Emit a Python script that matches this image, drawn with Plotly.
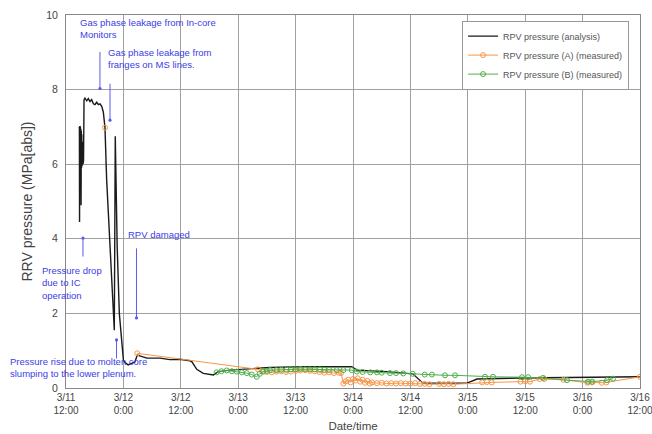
import plotly.graph_objects as go

# ---------------- data ----------------
an_time = [
    "2011-03-11 14:46", "2011-03-11 14:48", "2011-03-11 14:50", "2011-03-11 14:52",
    "2011-03-11 14:54", "2011-03-11 14:56", "2011-03-11 14:58", "2011-03-11 15:00",
    "2011-03-11 15:03", "2011-03-11 15:06", "2011-03-11 15:09", "2011-03-11 15:12",
    "2011-03-11 15:15", "2011-03-11 15:18", "2011-03-11 15:22", "2011-03-11 15:27",
    "2011-03-11 15:33", "2011-03-11 15:40", "2011-03-11 15:46", "2011-03-11 15:58",
    "2011-03-11 16:20", "2011-03-11 16:40", "2011-03-11 17:01", "2011-03-11 17:22",
    "2011-03-11 17:43", "2011-03-11 18:04", "2011-03-11 18:25", "2011-03-11 18:46",
    "2011-03-11 19:07", "2011-03-11 19:28", "2011-03-11 19:48", "2011-03-11 20:00",
    "2011-03-11 20:09", "2011-03-11 20:30", "2011-03-11 21:10", "2011-03-11 21:38",
    "2011-03-11 21:50", "2011-03-11 22:06", "2011-03-11 22:18", "2011-03-11 22:30",
    "2011-03-11 22:42", "2011-03-11 23:09", "2011-03-11 23:39", "2011-03-12 00:00",
    "2011-03-12 00:20", "2011-03-12 01:00", "2011-03-12 02:24", "2011-03-12 02:54",
    "2011-03-12 04:54", "2011-03-12 07:39", "2011-03-12 09:44", "2011-03-12 11:48",
    "2011-03-12 13:54", "2011-03-12 14:20", "2011-03-12 15:20", "2011-03-12 16:42",
    "2011-03-12 18:48", "2011-03-12 19:50", "2011-03-12 22:18", "2011-03-13 03:10",
    "2011-03-13 06:39", "2011-03-13 13:36", "2011-03-13 23:44", "2011-03-14 00:48",
    "2011-03-14 07:00", "2011-03-14 12:30", "2011-03-14 14:38", "2011-03-14 23:50",
    "2011-03-15 01:56", "2011-03-15 10:55", "2011-03-16 00:56", "2011-03-16 12:00",
]
an_value = [
    7.00, 6.95, 4.45, 7.02,
    5.10, 6.98, 4.60, 7.00,
    5.80, 6.95, 4.90, 6.90,
    5.90, 6.80, 5.95, 6.60,
    6.00, 6.10, 7.72, 7.77,
    7.70, 7.76, 7.68, 7.73,
    7.62, 7.60, 7.66, 7.60,
    7.62, 7.55, 7.40, 7.18,
    6.98, 5.58, 3.79, 2.45,
    1.90, 1.55, 6.75, 5.20,
    3.79, 2.00, 1.10, 0.75,
    0.68, 0.62, 0.70, 0.88,
    0.80, 0.80, 0.76, 0.77,
    0.73, 0.70, 0.50, 0.39,
    0.35, 0.44, 0.48, 0.53,
    0.55, 0.57, 0.57, 0.48,
    0.44, 0.38, 0.13, 0.13,
    0.24, 0.27, 0.28, 0.30,
]

# measured (A); None marks a gap in the record
a_time = [
    "2011-03-11 20:09", "2011-03-12 00:00", "2011-03-12 02:54", "2011-03-13 04:08",
    "2011-03-13 05:00", "2011-03-13 06:00", "2011-03-13 07:00", "2011-03-13 08:00",
    "2011-03-13 09:00", "2011-03-13 10:00", "2011-03-13 11:00", "2011-03-13 12:00",
    "2011-03-13 13:00", "2011-03-13 14:00", "2011-03-13 15:00", "2011-03-13 16:00",
    "2011-03-13 17:00", "2011-03-13 18:00", "2011-03-13 19:00", "2011-03-13 20:00",
    "2011-03-13 21:00", "2011-03-13 21:30", "2011-03-13 22:00", "2011-03-13 22:30",
    "2011-03-13 23:00", "2011-03-13 23:30", "2011-03-14 00:00", "2011-03-14 00:30",
    "2011-03-14 01:00", "2011-03-14 01:30", "2011-03-14 02:00", "2011-03-14 02:30",
    "2011-03-14 03:00", "2011-03-14 03:30", "2011-03-14 04:00", "2011-03-14 05:00",
    "2011-03-14 06:00", "2011-03-14 07:00", "2011-03-14 08:00", "2011-03-14 09:00",
    "2011-03-14 10:00", "2011-03-14 11:00", "2011-03-14 12:00", "2011-03-14 13:00",
    "2011-03-14 14:00", "2011-03-14 15:00", "2011-03-14 16:00", "2011-03-14 18:00",
    "2011-03-14 19:00", "2011-03-14 20:00", "2011-03-14 21:00", "2011-03-15 03:00",
    "2011-03-15 04:00", "2011-03-15 05:00", "2011-03-15 11:00", "2011-03-15 12:00",
    "2011-03-15 13:00", "2011-03-15 15:00", "2011-03-15 16:00", "2011-03-15 20:00",
    "2011-03-16 01:00", "2011-03-16 02:00", "2011-03-16 04:00", "2011-03-16 05:00",
    "2011-03-16 12:00",
]
a_value = [
    6.98, None, 0.93, 0.50,
    0.45, 0.43, 0.42, 0.44,
    0.45, 0.43, 0.44, 0.46,
    0.47, 0.48, 0.46, 0.45,
    0.43, 0.41, 0.42, 0.40,
    0.41, 0.40, 0.12, 0.18,
    0.22, 0.15, 0.24, 0.20,
    0.26, 0.17, 0.22, 0.14,
    0.19, 0.12, 0.15, 0.13,
    0.14, 0.12, 0.13, 0.12,
    0.13, 0.12, 0.12, 0.13,
    0.11, 0.11, 0.10, 0.11,
    0.10, 0.11, 0.10, 0.15,
    0.16, 0.15, 0.17, 0.18,
    0.17, 0.24, 0.24, 0.22,
    0.14, 0.15, 0.14, 0.15,
    0.30,
]

b_time = [
    "2011-03-12 19:30", "2011-03-12 20:30", "2011-03-12 21:36", "2011-03-12 22:40",
    "2011-03-12 23:42", "2011-03-13 00:45", "2011-03-13 01:48", "2011-03-13 02:50",
    "2011-03-13 03:52", "2011-03-13 04:30", "2011-03-13 05:15", "2011-03-13 06:00",
    "2011-03-13 06:39", "2011-03-13 08:00", "2011-03-13 09:00", "2011-03-13 10:08",
    "2011-03-13 11:00", "2011-03-13 12:00", "2011-03-13 13:00", "2011-03-13 14:00",
    "2011-03-13 15:00", "2011-03-13 16:00", "2011-03-13 17:06", "2011-03-13 18:00",
    "2011-03-13 19:00", "2011-03-13 20:36", "2011-03-13 22:00", "2011-03-13 23:44",
    "2011-03-14 00:48", "2011-03-14 02:00", "2011-03-14 03:36", "2011-03-14 05:00",
    "2011-03-14 06:00", "2011-03-14 07:44", "2011-03-14 09:00", "2011-03-14 10:30",
    "2011-03-14 12:30", "2011-03-14 15:00", "2011-03-14 16:30", "2011-03-14 19:14",
    "2011-03-14 21:20", "2011-03-15 03:36", "2011-03-15 05:16", "2011-03-15 11:20",
    "2011-03-15 12:36", "2011-03-15 15:44", "2011-03-15 20:44", "2011-03-16 01:08",
    "2011-03-16 02:00", "2011-03-16 05:08", "2011-03-16 06:22",
]
b_value = [
    0.42, 0.45, 0.47, 0.45,
    0.44, 0.42, 0.40, 0.36,
    0.30, 0.38, 0.44, 0.46,
    0.48, 0.48, 0.49, 0.49,
    0.50, 0.50, 0.51, 0.50,
    0.50, 0.50, 0.50, 0.49,
    0.49, 0.48, 0.48, 0.48,
    0.44, 0.43, 0.42, 0.42,
    0.41, 0.40, 0.40, 0.39,
    0.38, 0.36, 0.36, 0.34,
    0.34, 0.30, 0.30, 0.29,
    0.29, 0.27, 0.21, 0.17,
    0.17, 0.21, 0.25,
]

tick_vals = [
    "2011-03-11 12:00", "2011-03-12 00:00", "2011-03-12 12:00", "2011-03-13 00:00",
    "2011-03-13 12:00", "2011-03-14 00:00", "2011-03-14 12:00", "2011-03-15 00:00",
    "2011-03-15 12:00", "2011-03-16 00:00", "2011-03-16 12:00",
]
tick_text = [
    "3/11<br>12:00", "3/12<br>0:00", "3/12<br>12:00", "3/13<br>0:00",
    "3/13<br>12:00", "3/14<br>0:00", "3/14<br>12:00", "3/15<br>0:00",
    "3/15<br>12:00", "3/16<br>0:00", "3/16<br>12:00",
]

# event markers (arrow-head dot position) and their labels
event_time = ["2011-03-11 19:06", "2011-03-11 21:12", "2011-03-12 02:44",
              "2011-03-11 15:33", "2011-03-11 22:34"]
event_value = [8.03, 7.18, 1.88, 4.02, 1.29]
event_text = [
    "Gas phase leakage from In-core<br>Monitors",
    "Gas phase leakage from<br>franges on MS lines.",
    "RPV damaged",
    "Pressure drop<br>due to IC<br>operation",
    "Pressure rise due to molten core<br>slumping to the lower plenum.",
]

FONT = "Arial, 'Liberation Sans', sans-serif"
BLUE = "#3c3ce6"
ORANGE = "#f79646"
GREEN = "#4fae4a"

fig = go.Figure()
fig.add_trace(go.Scatter(x=an_time, y=an_value, mode="lines", name="RPV pressure (analysis)",
                         line=dict(color="#1a1a1a", width=1.4)))
fig.add_trace(go.Scatter(x=a_time, y=a_value, mode="lines+markers", name="RPV pressure (A) (measured)",
                         connectgaps=False,
                         line=dict(color=ORANGE, width=1),
                         marker=dict(symbol="circle-open", size=5, color=ORANGE, line=dict(width=1))))
fig.add_trace(go.Scatter(x=b_time, y=b_value, mode="lines+markers", name="RPV pressure (B) (measured)",
                         line=dict(color=GREEN, width=1),
                         marker=dict(symbol="circle-open", size=5, color=GREEN, line=dict(width=1))))

# arrows with dot heads
arrow_offsets = [(0, -38), (0, -38), (0, -71), (0, 20), (0, 20)]
for t, v, (axo, ayo) in zip(event_time, event_value, arrow_offsets):
    fig.add_annotation(x=t, y=v, xref="x", yref="y", text="", showarrow=True,
                       ax=axo, ay=ayo, arrowhead=6, arrowsize=0.8, arrowwidth=1,
                       arrowcolor="#5a5aee", standoff=0, startstandoff=0)

# label text positions (paper coords)
label_pos = [(0.0226, 0.997), (0.0714, 0.918), (0.106, 0.428), (-0.0436, 0.333), (-0.0993, 0.088)]
for txt, (px, py) in zip(event_text, label_pos):
    fig.add_annotation(x=px, y=py, xref="paper", yref="paper", text=txt, showarrow=False,
                       xanchor="left", yanchor="top", align="left", borderpad=0,
                       font=dict(family=FONT, size=9.5, color=BLUE))

fig.update_layout(
    width=652, height=434,
    margin=dict(l=66, r=12, t=15, b=46, autoexpand=False),
    paper_bgcolor="white", plot_bgcolor="white",
    font=dict(family=FONT, size=10, color="#444"),
    showlegend=True,
    legend=dict(x=0.69, y=0.985, xanchor="left", yanchor="top",
                bgcolor="white", bordercolor="#999", borderwidth=1,
                font=dict(family=FONT, size=9, color="#555"),
                tracegroupgap=0),
)
fig.update_xaxes(type="date", range=["2011-03-11 12:00", "2011-03-16 12:00"],
                 tickmode="array", tickvals=tick_vals, ticktext=tick_text,
                 showgrid=True, gridcolor="#a0a0a0", gridwidth=1,
                 showline=True, linecolor="#888", mirror=True, automargin=False,
                 ticklabeloverflow="allow",
                 ticks="", tickfont=dict(size=10, color="#444"),
                 title=dict(text="Date/time", font=dict(size=11.5, color="#444"), standoff=6))
fig.update_yaxes(range=[0, 10], dtick=2, showgrid=True, gridcolor="#a0a0a0", gridwidth=1,
                 showline=True, linecolor="#888", mirror=True, zeroline=False, automargin=False,
                 ticks="", ticklabelstandoff=5, tickfont=dict(size=10.5, color="#444"),
                 title=dict(text="RRV pressure (MPa[abs])", font=dict(size=14, color="#444"), standoff=10))

fig.write_html("out.html")
